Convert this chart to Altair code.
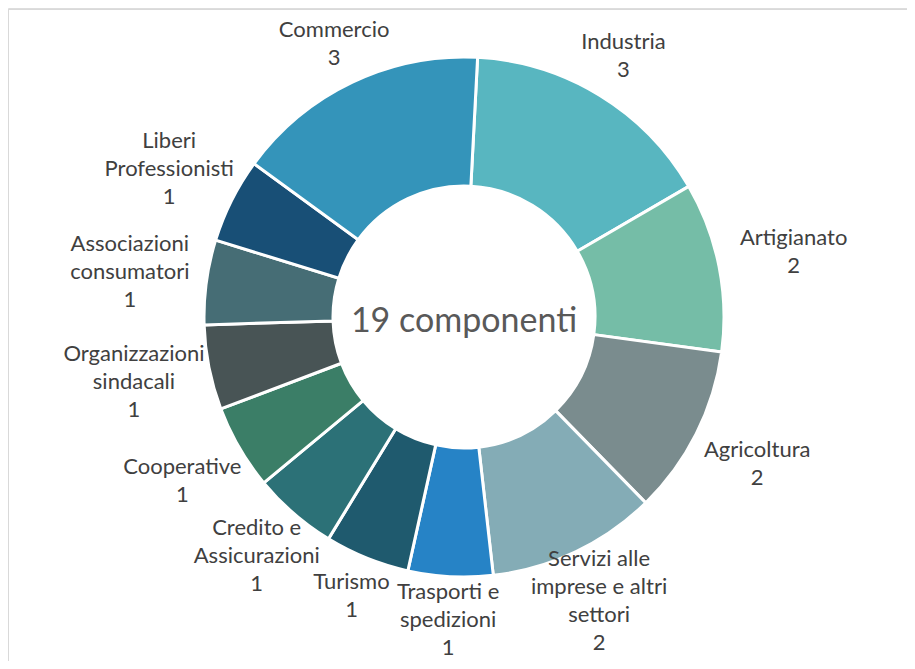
import altair as alt
import pandas as pd
import math

categories = [
    "Industria", "Artigianato", "Agricoltura", "Servizi alle\nimprese e altri\nsettori",
    "Trasporti e\nspedizioni", "Turismo", "Credito e\nAssicurazioni", "Cooperative",
    "Organizzazioni\nsindacali", "Associazioni\nconsumatori", "Liberi\nProfessionisti", "Commercio",
]
values = [3, 2, 2, 2, 1, 1, 1, 1, 1, 1, 1, 3]
colors = [
    "#58B6C0", "#75BDA7", "#7A8C8E", "#84ACB6", "#2683C6", "#1F5A6E",
    "#2C7177", "#3B7E67", "#485455", "#466D75", "#184F76", "#3494BA",
]
center_label = "componenti"

total = sum(values)
labels_txt = [f"{c}\n{v}" for c, v in zip(categories, values)]
df = pd.DataFrame({
    "cat": categories,
    "value": values,
    "idx": list(range(len(categories))),
    "label": labels_txt,
    "nlines": [t.count("\n") + 1 for t in labels_txt],
})

W, H = 899, 653
CX, CY = 456, 309
start = math.radians(3)
LH = 28

theta_range = [start, start + 2 * math.pi]

arcs = alt.Chart(df).mark_arc(innerRadius=131, outerRadius=260, stroke="white", strokeWidth=3).encode(
    theta=alt.Theta("value:Q", stack=True, scale=alt.Scale(range=theta_range)),
    order=alt.Order("idx:Q", sort="ascending"),
    x=alt.value(CX), y=alt.value(CY),
    color=alt.Color("cat:N", scale=alt.Scale(domain=categories, range=colors), legend=None),
)

label_layers = []
for n in sorted(df["nlines"].unique()):
    lyr = alt.Chart(df).transform_joinaggregate(
        tot="sum(value)"
    ).transform_window(
        cum="sum(value)", sort=[alt.SortField("idx")], frame=[None, 0]
    ).transform_calculate(
        midv="datum.cum - datum.value/2",
        ang=f"{start} + 2*PI*(datum.cum - datum.value/2)/datum.tot",
        ea="338",
        eb="282 + 7*datum.nlines",
    ).transform_calculate(
        r="datum.ea*datum.eb/sqrt(pow(datum.eb*sin(datum.ang),2) + pow(datum.ea*cos(datum.ang),2))",
        txt=f"datum.nlines == {int(n)} ? datum.label : ''",
    ).mark_text(
        font="Lato", fontSize=22, color="#404040", lineBreak="\n", lineHeight=LH,
        align="center", baseline="middle", dy=-(int(n) - 1) * LH / 2,
    ).encode(
        theta=alt.Theta("midv:Q", stack=None,
                        scale=alt.Scale(domain=[0, total], range=theta_range, nice=False, zero=True)),
        x=alt.value(CX), y=alt.value(CY),
        radius=alt.Radius("r:Q", scale=None),
        text="txt:N",
    )
    label_layers.append(lyr)

center = alt.Chart(pd.DataFrame({"t": [f"{total} {center_label}"]})).mark_text(
    font="Lato", fontSize=34, color="#595959", align="center", baseline="middle"
).encode(x=alt.value(CX), y=alt.value(CY + 5), text="t:N")

frame_left = alt.Chart(pd.DataFrame({"a": [0]})).mark_rule(color="#D9D9D9", strokeWidth=1).encode(
    x=alt.value(0.5), y=alt.value(1), y2=alt.value(H))
frame_top = alt.Chart(pd.DataFrame({"a": [0]})).mark_rule(color="#D9D9D9", strokeWidth=1).encode(
    x=alt.value(0), x2=alt.value(W), y=alt.value(1.5))

chart = alt.layer(frame_left, frame_top, arcs, *label_layers, center).resolve_scale(
    theta="independent"
).properties(
    width=W, height=H,
    autosize=alt.AutoSizeParams(type="none"),
    padding={"left": 0, "top": 0, "right": 0, "bottom": 0},
).configure_view(stroke=None).configure(background="white")

chart.save("out.html", embed_options={"renderer": "svg", "actions": False})
